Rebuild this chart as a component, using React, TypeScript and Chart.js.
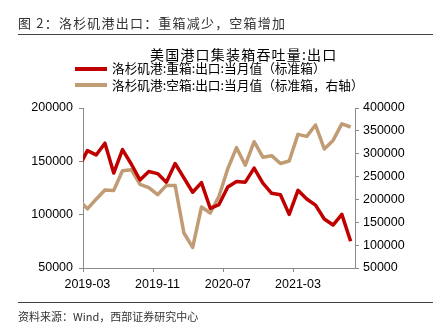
import React, { useEffect, useRef } from "react";
import { Chart, registerables } from "chart.js";

Chart.register(...registerables);

const categories = [
  "2019-02", "2019-03", "2019-04", "2019-05", "2019-06", "2019-07", "2019-08", "2019-09",
  "2019-10", "2019-11", "2019-12", "2020-01", "2020-02", "2020-03", "2020-04", "2020-05",
  "2020-06", "2020-07", "2020-08", "2020-09", "2020-10", "2020-11", "2020-12", "2021-01",
  "2021-02", "2021-03", "2021-04", "2021-05", "2021-06", "2021-07", "2021-08", "2021-09",
];
const firstVisible = "2019-03";
const xTickLabels = ["2019-03", "2019-11", "2020-07", "2021-03"];

// 洛杉矶港:重箱:出口:当月值 (left axis)
const fullExports = [
  144200, 160000, 156000, 167000, 139000, 161000, 147500, 132500, 140500, 138500, 130500,
  148000, 134500, 121000, 130000, 106000, 109500, 126000, 131000, 130500, 143700, 129500,
  120000, 118700, 100300, 122800, 114700, 109000, 95900, 90300, 100300, 75000,
];
// 洛杉矶港:空箱:出口:当月值 (right axis)
const emptyExports = [
  199200, 179300, 200500, 220600, 219700, 262800, 265000, 232900, 225700, 210300, 230700,
  230700, 126600, 95100, 183400, 170300, 207000, 267200, 313200, 274900, 326300, 292400,
  295700, 278600, 284100, 342300, 337900, 362800, 310500, 329100, 365200, 358400,
];

const leftMin = 50000, leftMax = 200000, leftStep = 50000;
const rightMin = 50000, rightMax = 400000, rightStep = 50000;

const RED = "#C00000";
const TAN = "#C19B73";
const AXIS = "#8a8a8a";
const numFont = { family: "'Liberation Sans', Arial, sans-serif", size: 12.5 };

export default function App() {
  const ref = useRef<HTMLCanvasElement | null>(null);

  useEffect(() => {
    if (!ref.current) return;
    const chart = new Chart(ref.current, {
      type: "line",
      data: {
        labels: categories,
        datasets: [
          {
            label: "洛杉矶港:重箱:出口:当月值（标准箱）",
            data: fullExports,
            borderColor: RED,
            backgroundColor: RED,
            borderWidth: 3.5,
            pointRadius: 0,
            tension: 0,
            borderJoinStyle: "round",
            yAxisID: "y",
            clip: 0,
          },
          {
            label: "洛杉矶港:空箱:出口:当月值（标准箱，右轴）",
            data: emptyExports,
            borderColor: TAN,
            backgroundColor: TAN,
            borderWidth: 3.5,
            pointRadius: 0,
            tension: 0,
            borderJoinStyle: "round",
            yAxisID: "y1",
            clip: 0,
          },
        ],
      },
      options: {
        animation: false,
        responsive: false,
        devicePixelRatio: 1,
        layout: { padding: { top: 108, left: 0, right: 0, bottom: 0 } },
        plugins: { legend: { display: false }, title: { display: false }, tooltip: { enabled: false } },
        scales: {
          x: {
            type: "category",
            min: firstVisible,
            offset: true,
            grid: {
              offset: true,
              drawOnChartArea: false,
              drawTicks: true,
              tickLength: 4,
              color: (ctx: any) =>
                ctx.tick && xTickLabels.includes(categories[ctx.tick.value]) ? AXIS : "rgba(0,0,0,0)",
            },
            border: { display: true, color: AXIS, width: 1 },
            ticks: {
              autoSkip: false,
              maxRotation: 0,
              minRotation: 0,
              padding: 5,
              color: "#000",
              font: numFont,
              callback: (value: any) => {
                const lab = categories[value as number];
                return xTickLabels.includes(lab) ? lab : "";
              },
            },
            afterFit: (s: any) => {
              s.height = 61;
            },
          },
          y: {
            position: "left",
            min: leftMin,
            max: leftMax,
            grid: { drawOnChartArea: false, tickLength: 4, color: AXIS },
            border: { display: true, color: AXIS, width: 1 },
            ticks: {
              stepSize: leftStep,
              padding: 6,
              color: "#000",
              font: numFont,
              callback: (v: any) => String(v),
            },
            afterFit: (s: any) => {
              s.width = 83;
            },
          },
          y1: {
            position: "right",
            min: rightMin,
            max: rightMax,
            grid: { drawOnChartArea: false, tickLength: 4, color: AXIS },
            border: { display: true, color: AXIS, width: 1 },
            ticks: {
              stepSize: rightStep,
              padding: 4,
              color: "#000",
              font: numFont,
              callback: (v: any) => String(v),
            },
            afterFit: (s: any) => {
              s.width = 86;
            },
          },
        },
      },
    });
    return () => chart.destroy();
  }, []);

  const cjk = "'Noto Sans CJK SC', 'Noto Sans', sans-serif";
  const abs: React.CSSProperties = { position: "absolute", whiteSpace: "nowrap", lineHeight: 1 };

  return (
    <div style={{ position: "relative", width: 441, height: 329, background: "#fff", overflow: "hidden" }}>
      <style>{`body{margin:0}`}</style>
      <canvas ref={ref} width={441} height={329} style={{ position: "absolute", left: 0, top: 0, width: 441, height: 329 }} />
      <div style={{ ...abs, left: 18, top: 16, fontFamily: cjk, fontSize: 13, color: "#333", letterSpacing: 1.2 }}>
        图 2：洛杉矶港出口：重箱减少，空箱增加
      </div>
      <div style={{ position: "absolute", left: 18, top: 34, width: 415, height: 0, borderTop: "1.5px solid #444" }} />
      <div style={{ ...abs, left: 150, top: 47, fontFamily: cjk, fontSize: 14, color: "#000", letterSpacing: 1.2 }}>
        美国港口集装箱吞吐量:出口
      </div>
      <div style={{ position: "absolute", left: 75, top: 66.5, width: 32, height: 4, background: RED }} />
      <div style={{ ...abs, left: 112, top: 62, fontFamily: cjk, fontSize: 12.7, color: "#000" }}>
        洛杉矶港:重箱:出口:当月值（标准箱）
      </div>
      <div style={{ position: "absolute", left: 75, top: 83, width: 32, height: 4, background: TAN }} />
      <div style={{ ...abs, left: 112, top: 79, fontFamily: cjk, fontSize: 12.7, color: "#000" }}>
        洛杉矶港:空箱:出口:当月值（标准箱，右轴）
      </div>
      <div style={{ position: "absolute", left: 18, top: 302, width: 415, height: 0, borderTop: "1.5px solid #444" }} />
      <div style={{ ...abs, left: 18, top: 310.5, fontFamily: cjk, fontSize: 11, color: "#333" }}>
        资料来源：Wind，西部证券研究中心
      </div>
    </div>
  );
}
